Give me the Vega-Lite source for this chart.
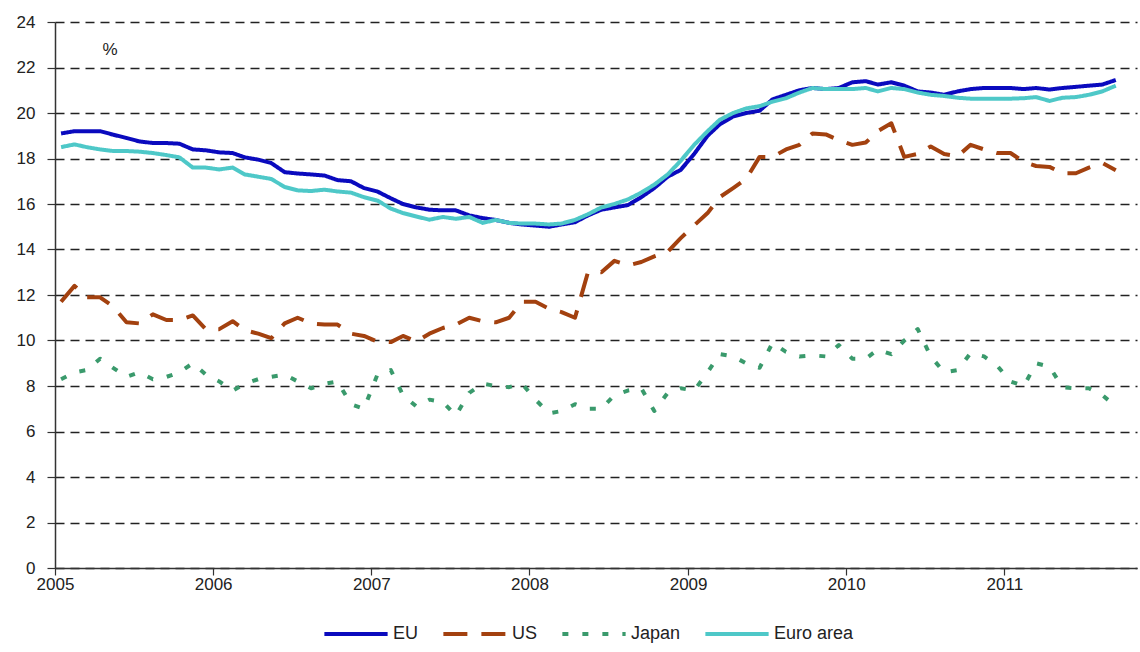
{
  "$schema": "https://vega.github.io/schema/vega-lite/v6.json",
  "width": 1082,
  "height": 546,
  "autosize": {"type": "none"},
  "padding": {"left": 55, "top": 22, "right": 3, "bottom": 84},
  "background": "white",
  "config": {"view": {"stroke": null}, "font": "Liberation Sans"},
  "layer": [
    {
      "data": {"values": [
        {"month": "2005-01-15", "EU": 19.1, "US": 11.7, "Japan": 8.3, "Euro area": 18.5},
        {"month": "2005-02-15", "EU": 19.2, "US": 12.4, "Japan": 8.6, "Euro area": 18.62},
        {"month": "2005-03-15", "EU": 19.2, "US": 11.9, "Japan": 8.7, "Euro area": 18.5},
        {"month": "2005-04-15", "EU": 19.2, "US": 11.9, "Japan": 9.2, "Euro area": 18.4},
        {"month": "2005-05-15", "EU": 19.05, "US": 11.5, "Japan": 8.8, "Euro area": 18.33},
        {"month": "2005-06-15", "EU": 18.9, "US": 10.8, "Japan": 8.4, "Euro area": 18.33},
        {"month": "2005-07-15", "EU": 18.75, "US": 10.75, "Japan": 8.6, "Euro area": 18.3},
        {"month": "2005-08-15", "EU": 18.68, "US": 11.15, "Japan": 8.3, "Euro area": 18.24},
        {"month": "2005-09-15", "EU": 18.68, "US": 10.9, "Japan": 8.4, "Euro area": 18.15},
        {"month": "2005-10-15", "EU": 18.65, "US": 10.9, "Japan": 8.6, "Euro area": 18.05},
        {"month": "2005-11-15", "EU": 18.4, "US": 11.1, "Japan": 9.0, "Euro area": 17.6},
        {"month": "2005-12-15", "EU": 18.36, "US": 10.5, "Japan": 8.5, "Euro area": 17.6},
        {"month": "2006-01-15", "EU": 18.27, "US": 10.5, "Japan": 8.2, "Euro area": 17.52},
        {"month": "2006-02-15", "EU": 18.24, "US": 10.85, "Japan": 7.8, "Euro area": 17.6},
        {"month": "2006-03-15", "EU": 18.05, "US": 10.45, "Japan": 8.1, "Euro area": 17.3},
        {"month": "2006-04-15", "EU": 17.95, "US": 10.3, "Japan": 8.3, "Euro area": 17.2},
        {"month": "2006-05-15", "EU": 17.8, "US": 10.1, "Japan": 8.4, "Euro area": 17.1},
        {"month": "2006-06-15", "EU": 17.4, "US": 10.75, "Japan": 8.5, "Euro area": 16.75},
        {"month": "2006-07-15", "EU": 17.34, "US": 11.0, "Japan": 8.2, "Euro area": 16.6},
        {"month": "2006-08-15", "EU": 17.3, "US": 10.75, "Japan": 7.9, "Euro area": 16.57},
        {"month": "2006-09-15", "EU": 17.25, "US": 10.7, "Japan": 8.1, "Euro area": 16.63},
        {"month": "2006-10-15", "EU": 17.05, "US": 10.7, "Japan": 8.2, "Euro area": 16.55},
        {"month": "2006-11-15", "EU": 17.0, "US": 10.3, "Japan": 7.2, "Euro area": 16.5},
        {"month": "2006-12-15", "EU": 16.7, "US": 10.2, "Japan": 7.0, "Euro area": 16.3},
        {"month": "2007-01-15", "EU": 16.55, "US": 9.95, "Japan": 8.5, "Euro area": 16.15},
        {"month": "2007-02-15", "EU": 16.25, "US": 9.93, "Japan": 8.7, "Euro area": 15.8},
        {"month": "2007-03-15", "EU": 16.0, "US": 10.2, "Japan": 7.6, "Euro area": 15.6},
        {"month": "2007-04-15", "EU": 15.85, "US": 9.95, "Japan": 7.1, "Euro area": 15.45},
        {"month": "2007-05-15", "EU": 15.75, "US": 10.3, "Japan": 7.4, "Euro area": 15.31},
        {"month": "2007-06-15", "EU": 15.72, "US": 10.55, "Japan": 7.3, "Euro area": 15.43},
        {"month": "2007-07-15", "EU": 15.72, "US": 10.7, "Japan": 6.7, "Euro area": 15.35},
        {"month": "2007-08-15", "EU": 15.5, "US": 11.0, "Japan": 7.7, "Euro area": 15.43},
        {"month": "2007-09-15", "EU": 15.38, "US": 10.85, "Japan": 8.1, "Euro area": 15.17},
        {"month": "2007-10-15", "EU": 15.3, "US": 10.8, "Japan": 8.0, "Euro area": 15.3},
        {"month": "2007-11-15", "EU": 15.17, "US": 11.0, "Japan": 7.95, "Euro area": 15.17},
        {"month": "2007-12-15", "EU": 15.1, "US": 11.7, "Japan": 8.1, "Euro area": 15.14},
        {"month": "2008-01-15", "EU": 15.05, "US": 11.7, "Japan": 7.4, "Euro area": 15.14},
        {"month": "2008-02-15", "EU": 15.0, "US": 11.4, "Japan": 6.8, "Euro area": 15.1},
        {"month": "2008-03-15", "EU": 15.1, "US": 11.25, "Japan": 6.9, "Euro area": 15.14},
        {"month": "2008-04-15", "EU": 15.2, "US": 11.0, "Japan": 7.2, "Euro area": 15.3},
        {"month": "2008-05-15", "EU": 15.5, "US": 13.0, "Japan": 7.0, "Euro area": 15.55},
        {"month": "2008-06-15", "EU": 15.75, "US": 13.0, "Japan": 7.0, "Euro area": 15.85},
        {"month": "2008-07-15", "EU": 15.85, "US": 13.5, "Japan": 7.6, "Euro area": 16.0},
        {"month": "2008-08-15", "EU": 15.95, "US": 13.3, "Japan": 7.8, "Euro area": 16.2},
        {"month": "2008-09-15", "EU": 16.3, "US": 13.45, "Japan": 7.9, "Euro area": 16.5},
        {"month": "2008-10-15", "EU": 16.7, "US": 13.7, "Japan": 6.9, "Euro area": 16.85},
        {"month": "2008-11-15", "EU": 17.2, "US": 13.9, "Japan": 7.7, "Euro area": 17.3},
        {"month": "2008-12-15", "EU": 17.5, "US": 14.5, "Japan": 7.9, "Euro area": 17.9},
        {"month": "2009-01-15", "EU": 18.2, "US": 15.06, "Japan": 7.8, "Euro area": 18.6},
        {"month": "2009-02-15", "EU": 19.0, "US": 15.6, "Japan": 8.6, "Euro area": 19.2},
        {"month": "2009-03-15", "EU": 19.5, "US": 16.3, "Japan": 9.4, "Euro area": 19.7},
        {"month": "2009-04-15", "EU": 19.85, "US": 16.7, "Japan": 9.3, "Euro area": 20.0},
        {"month": "2009-05-15", "EU": 20.0, "US": 17.1, "Japan": 9.0, "Euro area": 20.2},
        {"month": "2009-06-15", "EU": 20.1, "US": 18.07, "Japan": 8.8, "Euro area": 20.3},
        {"month": "2009-07-15", "EU": 20.6, "US": 18.07, "Japan": 9.9, "Euro area": 20.5},
        {"month": "2009-08-15", "EU": 20.8, "US": 18.4, "Japan": 9.5, "Euro area": 20.65},
        {"month": "2009-09-15", "EU": 21.0, "US": 18.6, "Japan": 9.3, "Euro area": 20.9},
        {"month": "2009-10-15", "EU": 21.1, "US": 19.1, "Japan": 9.35, "Euro area": 21.1},
        {"month": "2009-11-15", "EU": 21.05, "US": 19.06, "Japan": 9.3, "Euro area": 21.05},
        {"month": "2009-12-15", "EU": 21.1, "US": 18.8, "Japan": 9.8, "Euro area": 21.05},
        {"month": "2010-01-15", "EU": 21.35, "US": 18.6, "Japan": 9.2, "Euro area": 21.05},
        {"month": "2010-02-15", "EU": 21.4, "US": 18.7, "Japan": 9.2, "Euro area": 21.1},
        {"month": "2010-03-15", "EU": 21.25, "US": 19.2, "Japan": 9.6, "Euro area": 20.95},
        {"month": "2010-04-15", "EU": 21.35, "US": 19.55, "Japan": 9.4, "Euro area": 21.1},
        {"month": "2010-05-15", "EU": 21.2, "US": 18.07, "Japan": 10.0, "Euro area": 21.05},
        {"month": "2010-06-15", "EU": 20.95, "US": 18.2, "Japan": 10.5, "Euro area": 20.9},
        {"month": "2010-07-15", "EU": 20.9, "US": 18.53, "Japan": 9.3, "Euro area": 20.8},
        {"month": "2010-08-15", "EU": 20.8, "US": 18.2, "Japan": 8.6, "Euro area": 20.75},
        {"month": "2010-09-15", "EU": 20.95, "US": 18.1, "Japan": 8.7, "Euro area": 20.67},
        {"month": "2010-10-15", "EU": 21.05, "US": 18.6, "Japan": 9.45, "Euro area": 20.63},
        {"month": "2010-11-15", "EU": 21.1, "US": 18.4, "Japan": 9.3, "Euro area": 20.63},
        {"month": "2010-12-15", "EU": 21.1, "US": 18.24, "Japan": 8.9, "Euro area": 20.63},
        {"month": "2011-01-15", "EU": 21.1, "US": 18.24, "Japan": 8.2, "Euro area": 20.63},
        {"month": "2011-02-15", "EU": 21.05, "US": 17.85, "Japan": 8.0, "Euro area": 20.65},
        {"month": "2011-03-15", "EU": 21.1, "US": 17.67, "Japan": 9.0, "Euro area": 20.7},
        {"month": "2011-04-15", "EU": 21.03, "US": 17.63, "Japan": 8.85, "Euro area": 20.53},
        {"month": "2011-05-15", "EU": 21.1, "US": 17.35, "Japan": 7.95, "Euro area": 20.67},
        {"month": "2011-06-15", "EU": 21.15, "US": 17.35, "Japan": 7.9, "Euro area": 20.7},
        {"month": "2011-07-15", "EU": 21.2, "US": 17.6, "Japan": 7.9, "Euro area": 20.8},
        {"month": "2011-08-15", "EU": 21.25, "US": 17.8, "Japan": 7.6, "Euro area": 20.95},
        {"month": "2011-09-15", "EU": 21.45, "US": 17.48, "Japan": 7.1, "Euro area": 21.2}
      ]},
      "transform": [{"fold": ["EU", "US", "Japan", "Euro area"], "as": ["series", "value"]}],
      "mark": {"type": "line", "strokeWidth": 4, "strokeCap": "butt", "strokeJoin": "round"},
      "encoding": {
        "x": {
          "field": "month", "type": "temporal",
          "scale": {"type": "utc", "domain": [{"year": 2005, "month": 1, "date": 1, "utc": true}, {"year": 2011, "month": 11, "date": 3, "utc": true}]},
          "axis": {
            "title": null, "grid": false,
            "values": [
              {"year": 2005, "month": 1, "date": 1, "utc": true},
              {"year": 2006, "month": 1, "date": 1, "utc": true},
              {"year": 2007, "month": 1, "date": 1, "utc": true},
              {"year": 2008, "month": 1, "date": 1, "utc": true},
              {"year": 2009, "month": 1, "date": 1, "utc": true},
              {"year": 2010, "month": 1, "date": 1, "utc": true},
              {"year": 2011, "month": 1, "date": 1, "utc": true}
            ],
            "format": "%Y", "labelFlush": false, "labelOverlap": false,
            "labelFontSize": 17, "labelColor": "#222", "labelPadding": 1,
            "tickSize": 7, "tickColor": "#333", "tickWidth": 1.2,
            "domainColor": "#333", "domainWidth": 1.5
          }
        },
        "y": {
          "field": "value", "type": "quantitative",
          "scale": {"domain": [0, 24], "nice": false, "zero": true},
          "axis": {
            "title": null,
            "values": [0, 2, 4, 6, 8, 10, 12, 14, 16, 18, 20, 22, 24],
            "labelFlush": false, "labelOverlap": false,
            "labelFontSize": 17, "labelColor": "#222", "labelPadding": 12,
            "tickSize": 8, "tickColor": "#333", "tickWidth": 1.2,
            "domainColor": "#333", "domainWidth": 1.5,
            "grid": true, "gridColor": "#222", "gridDash": [9, 6], "gridWidth": 1.3
          }
        },
        "color": {
          "field": "series", "type": "nominal",
          "scale": {"domain": ["EU", "US", "Japan", "Euro area"], "range": ["#0A0ABE", "#A3410F", "#3A9A6C", "#4EC8C8"]},
          "legend": {
            "orient": "none", "legendX": 267, "legendY": 578, "direction": "horizontal",
            "title": null, "symbolType": "stroke", "symbolSize": 4000, "symbolStrokeWidth": 4,
            "labelFontSize": 18, "labelColor": "#222", "labelOffset": 3, "columnPadding": 16
          }
        },
        "strokeDash": {
          "field": "series", "type": "nominal",
          "scale": {"domain": ["EU", "US", "Japan", "Euro area"], "range": [[1, 0], [24, 14], [6, 14], [1, 0]]},
          "legend": {
            "orient": "none", "legendX": 267, "legendY": 578, "direction": "horizontal",
            "title": null, "symbolType": "stroke", "symbolSize": 4000, "symbolStrokeWidth": 4,
            "labelFontSize": 18, "labelColor": "#222", "labelOffset": 3, "columnPadding": 16
          }
        }
      }
    },
    {
      "data": {"values": [{"month": "2005-05-08", "value": 22.75, "label": "%"}]},
      "mark": {"type": "text", "fontSize": 17, "color": "#222", "align": "center", "baseline": "middle"},
      "encoding": {
        "x": {"field": "month", "type": "temporal", "scale": {"type": "utc"}},
        "y": {"field": "value", "type": "quantitative"},
        "text": {"field": "label"}
      }
    }
  ]
}
